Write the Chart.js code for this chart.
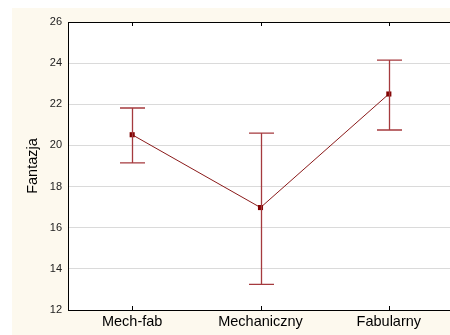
<!DOCTYPE html>
<html>
<head>
<meta charset="utf-8">
<script src="https://cdn.jsdelivr.net/npm/chart.js@4"></script>
<style>
  html, body { margin: 0; padding: 0; background: #ffffff; overflow: hidden; }
  #wrap { position: relative; width: 450px; height: 335px; overflow: hidden; }
  #bg { position: absolute; left: 12px; top: 8px; right: 0; bottom: 0; background: #fdf9ee; }
  #chart { position: absolute; left: 0; top: 0; }
</style>
</head>
<body>
<div id="wrap">
  <div id="bg"></div>
  <canvas id="chart" width="460" height="335"></canvas>
</div>
<script>
// dane
const categories = ["Mech-fab", "Mechaniczny", "Fabularny"];
const means = [20.52, 16.98, 22.5];
const errLow = [19.15, 13.25, 20.75];
const errHigh = [21.82, 20.6, 24.15];
const yTicks = [12, 14, 16, 18, 20, 22, 24, 26];

const lineColor = "#8b1a1a";
const barColor = "#a53a3e";

// biale pole wykresu + ramka + znaczniki osi x
const frame = {
  id: "frame",
  beforeDraw(chart) {
    const { ctx, chartArea: a } = chart;
    ctx.save();
    ctx.fillStyle = "#ffffff";
    ctx.fillRect(a.left, a.top, a.right - a.left, a.bottom - a.top);
    ctx.restore();
  },
  afterDraw(chart) {
    const { ctx, chartArea: a, scales } = chart;
    ctx.save();
    ctx.strokeStyle = "#000000";
    ctx.lineWidth = 1;
    ctx.beginPath();
    ctx.moveTo(a.left + 0.5, a.top + 0.5);
    ctx.lineTo(a.left + 0.5, a.bottom + 0.5);
    ctx.moveTo(a.left, a.top + 0.5);
    ctx.lineTo(a.right, a.top + 0.5);
    ctx.moveTo(a.left, a.bottom + 0.5);
    ctx.lineTo(a.right, a.bottom + 0.5);
    categories.forEach((c, i) => {
      const x = Math.round(scales.x.getPixelForTick(i)) + 0.5;
      ctx.moveTo(x, a.top);
      ctx.lineTo(x, a.top + 4);
      ctx.moveTo(x, a.bottom);
      ctx.lineTo(x, a.bottom - 4);
    });
    ctx.stroke();
    ctx.restore();
  }
};

// slupki bledow
const errorBars = {
  id: "errorBars",
  afterDatasetsDraw(chart) {
    const { ctx, scales } = chart;
    ctx.save();
    ctx.strokeStyle = barColor;
    ctx.lineWidth = 1.3;
    ctx.beginPath();
    categories.forEach((c, i) => {
      const x = Math.round(scales.x.getPixelForValue(i)) + 0.5;
      const yl = scales.y.getPixelForValue(errLow[i]);
      const yh = scales.y.getPixelForValue(errHigh[i]);
      ctx.moveTo(x, yl);
      ctx.lineTo(x, yh);
      ctx.moveTo(x - 12.5, yl);
      ctx.lineTo(x + 12.5, yl);
      ctx.moveTo(x - 12.5, yh);
      ctx.lineTo(x + 12.5, yh);
    });
    ctx.stroke();
    ctx.restore();
  }
};

new Chart(document.getElementById("chart"), {
  type: "line",
  data: {
    labels: categories,
    datasets: [{
      data: means,
      borderColor: lineColor,
      borderWidth: 1,
      pointStyle: "rect",
      pointRadius: 3.6,
      pointBackgroundColor: "#800000",
      pointBorderColor: "#800000",
      pointBorderWidth: 0,
      tension: 0
    }]
  },
  options: {
    responsive: false,
    animation: false,
    layout: { padding: { left: 0, top: 22, right: 7, bottom: 0 } },
    plugins: { legend: { display: false }, tooltip: { enabled: false } },
    scales: {
      x: {
        offset: true,
        grid: { display: false, drawTicks: false },
        border: { display: false },
        ticks: {
          color: "#000000",
          padding: 3,
          font: { family: "Liberation Sans, Arial", size: 14.5 }
        },
        afterFit(s) { s.height = 25; }
      },
      y: {
        min: 12,
        max: 26,
        afterBuildTicks(s) { s.ticks = yTicks.map(v => ({ value: v })); },
        grid: {
          drawTicks: false,
          color: ctx => (ctx.tick && (ctx.tick.value === 12 || ctx.tick.value === 26)) ? "rgba(0,0,0,0)" : "#dadada",
          lineWidth: 1
        },
        border: { display: false },
        ticks: {
          color: "#222222",
          padding: 6,
          font: { family: "Liberation Sans, Arial", size: 11 }
        },
        title: {
          display: true,
          text: "Fantazja",
          color: "#000000",
          padding: { top: 24, bottom: 0 },
          font: { family: "Liberation Sans, Arial", size: 14.5 }
        },
        afterFit(s) { s.width = 68; }
      }
    }
  },
  plugins: [frame, errorBars]
});
</script>
</body>
</html>
